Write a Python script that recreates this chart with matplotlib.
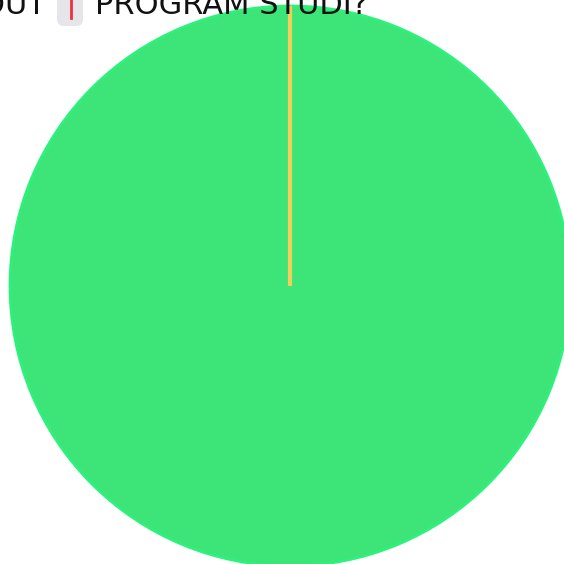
import matplotlib.pyplot as plt
from matplotlib.patches import FancyBboxPatch

# data
prodi = ['Program Studi A', 'Program Studi B']
jumlah = [1, 0]
warna = ['#3de477', '#f0d060']
tepi = ['#2cf27c', '#f2cf5c']

fig = plt.figure(figsize=(5.64, 5.64), dpi=100)
r = 280 / 564
cx, cy = 290 / 564, 1 - 286 / 564
ax = fig.add_axes([cx - r, cy - r, 2 * r, 2 * r])

wedges, _ = ax.pie(jumlah, colors=warna, startangle=90, counterclock=False,
                   radius=1, center=(0, 0), normalize=True)
for w, e in zip(wedges, tepi):
    w.set_edgecolor(e)
    w.set_clip_on(False)
wedges[0].set_linewidth(2.0)
wedges[1].set_linewidth(3.0)
wedges[1].set_zorder(5)
ax.set_xlim(-1, 1)
ax.set_ylim(-1, 1)
ax.set_aspect('equal')
ax.axis('off')

# title, cut off at the top of the picture
fig.text(46 / 564, 1 - 14 / 564, 'DROPOUT', fontsize=22, color='#111111',
         va='baseline', ha='right')
fig.patches.append(FancyBboxPatch((57 / 564, 1 - 26 / 564), 26 / 564, 40 / 564,
                                  boxstyle='round,pad=0,rounding_size=0.012',
                                  transform=fig.transFigure, facecolor='#e6e6ea',
                                  edgecolor='none'))
fig.lines.append(plt.Line2D([71 / 564, 71 / 564], [1 - 18 / 564, 1.0],
                            transform=fig.transFigure, color='#f0303e', lw=2))
fig.text(95 / 564, 1 - 14 / 564, 'PROGRAM STUDI?', fontsize=22, color='#111111',
         va='baseline', ha='left')

plt.savefig('out.png', dpi=100)
